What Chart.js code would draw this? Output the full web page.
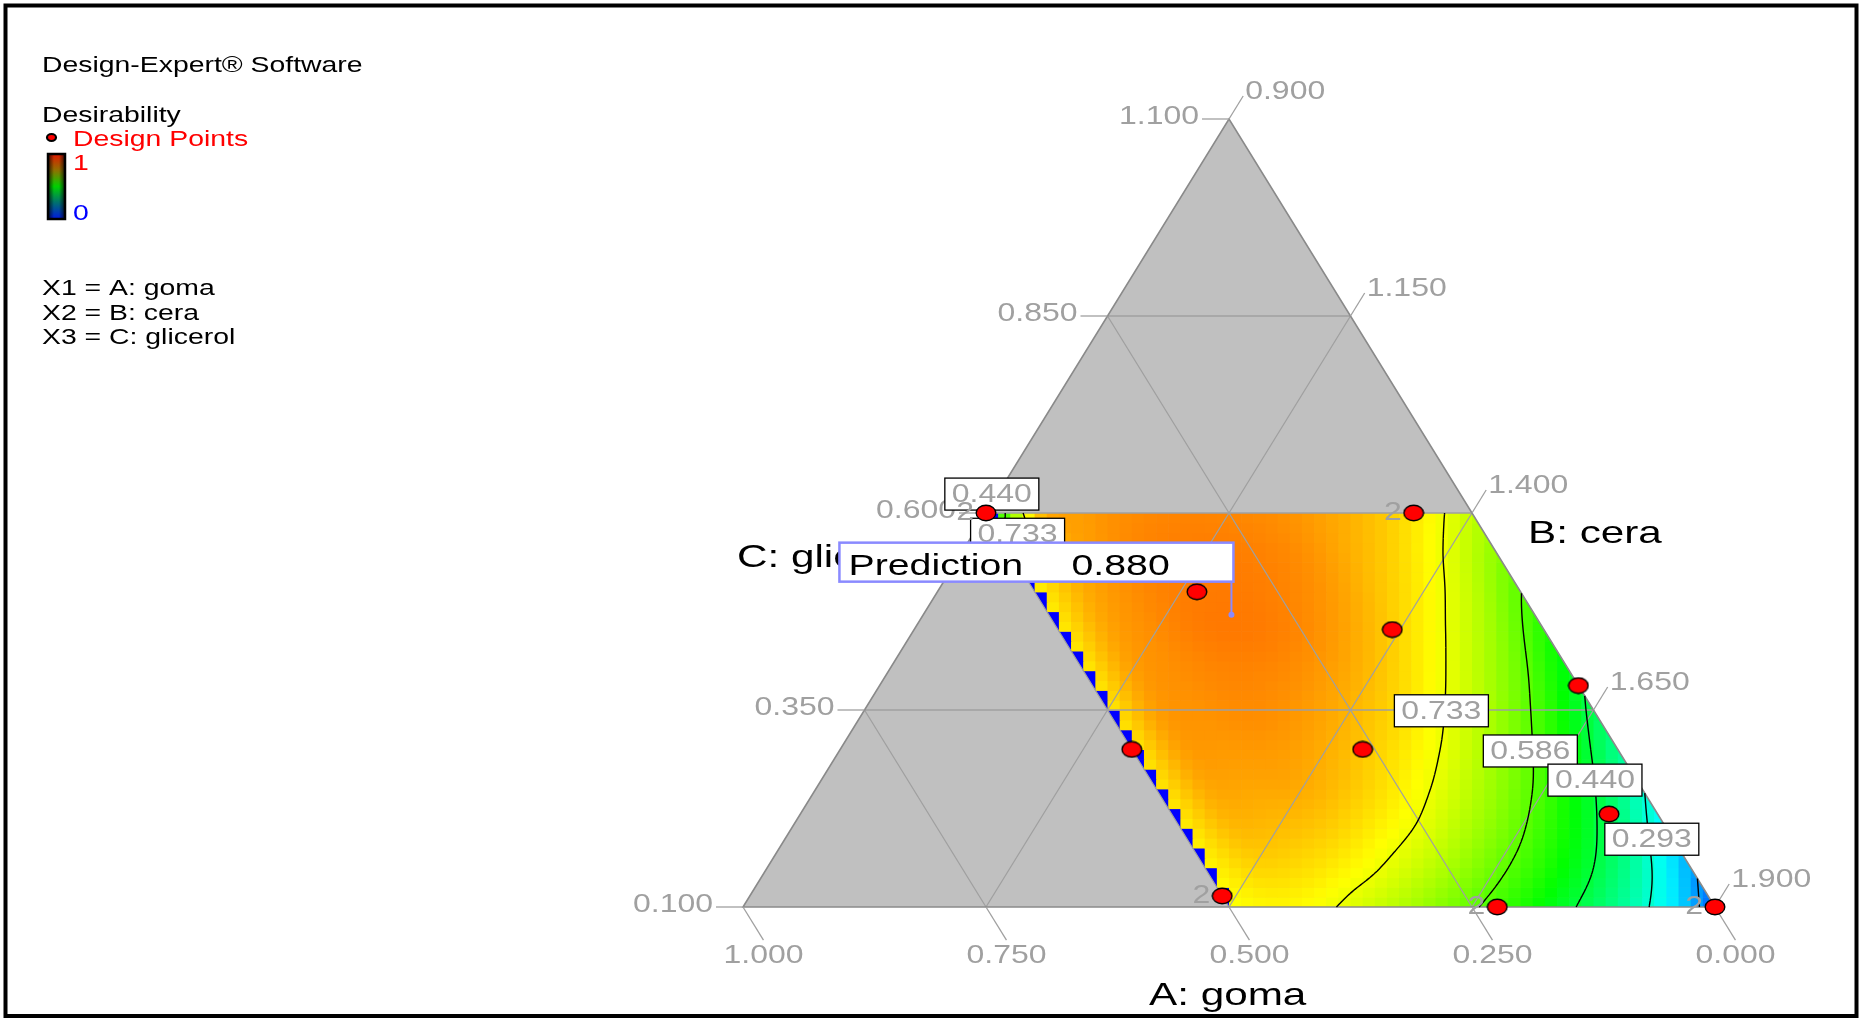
<!DOCTYPE html>
<html>
<head>
<meta charset="utf-8">
<title>Desirability - mixture plot</title>
<script src="https://cdn.jsdelivr.net/npm/chart.js@4.4.1/dist/chart.umd.min.js"></script>
<style>
  html, body { margin: 0; padding: 0; background: #ffffff; }
  #wrap { width: 1860px; height: 1018px; position: relative; }
</style>
</head>
<body>
<div id="wrap"><canvas id="chart"></canvas></div>
<script>
// Mixture in actual units: A goma 0-1, B cera 0.9-1.9, C glicerol 0.1-1.1, total 2.0
const A_MIN = 0.0, B_MIN = 0.9, C_MIN = 0.1, RANGE = 1.0;

// Constrained region: A <= 0.5, C <= 0.6
const A_MAX_REGION = 0.5, C_MAX_REGION = 0.6;

// Desirability readings on a grid: goma (columns) x glicerol (rows)
const gomaLevels     = [0.00, 0.05, 0.10, 0.15, 0.20, 0.25, 0.30, 0.35, 0.40, 0.45, 0.50];
const glicerolLevels = [0.10, 0.15, 0.20, 0.25, 0.30, 0.35, 0.40, 0.45, 0.50, 0.55, 0.60];
const desirC010 = [0.097, 0.249, 0.362, 0.452, 0.530, 0.595, 0.652, 0.699, 0.740, 0.757, 0.745];
const desirC015 = [0.166, 0.322, 0.440, 0.530, 0.603, 0.666, 0.716, 0.757, 0.783, 0.790, 0.755];
const desirC020 = [0.234, 0.385, 0.505, 0.594, 0.664, 0.723, 0.766, 0.800, 0.815, 0.815, 0.760];
const desirC025 = [0.300, 0.445, 0.562, 0.646, 0.713, 0.765, 0.805, 0.832, 0.836, 0.832, 0.765];
const desirC030 = [0.360, 0.500, 0.611, 0.691, 0.752, 0.796, 0.829, 0.848, 0.849, 0.842, 0.765];
const desirC035 = [0.419, 0.553, 0.655, 0.729, 0.785, 0.823, 0.850, 0.863, 0.857, 0.845, 0.765];
const desirC040 = [0.477, 0.603, 0.694, 0.762, 0.813, 0.847, 0.866, 0.870, 0.861, 0.842, 0.762];
const desirC045 = [0.533, 0.648, 0.730, 0.790, 0.836, 0.866, 0.880, 0.879, 0.862, 0.836, 0.760];
const desirC050 = [0.588, 0.690, 0.762, 0.812, 0.852, 0.873, 0.880, 0.876, 0.860, 0.828, 0.755];
const desirC055 = [0.641, 0.726, 0.788, 0.828, 0.860, 0.874, 0.878, 0.873, 0.855, 0.818, 0.748];
const desirC060 = [0.690, 0.763, 0.810, 0.840, 0.860, 0.868, 0.870, 0.863, 0.845, 0.800, 0.420];
const desirGrid = [desirC010, desirC015, desirC020, desirC025, desirC030, desirC035,
                   desirC040, desirC045, desirC050, desirC055, desirC060];

// Contour levels and where their labels sit (goma, glicerol)
const contourLevels  = [0.147, 0.293, 0.440, 0.586, 0.733];
const contourLabelLevel = [0.733, 0.586, 0.440, 0.293, 0.440, 0.733];
const contourLabelA     = [0.157, 0.091, 0.043, 0.022, 0.482, 0.481];
const contourLabelC     = [0.349, 0.298, 0.261, 0.186, 0.624, 0.573];

// Design points (goma, glicerol) and replicate counts
const designA    = [0.500, 0.060, 0.333, 0.156, 0.000, 0.500, 0.2625, 0.050, 0.500, 0.224, 0.000];
const designC    = [0.600, 0.600, 0.500, 0.452, 0.381, 0.300, 0.300, 0.218, 0.114, 0.100, 0.100];
const designReps = [2, 2, 1, 1, 1, 1, 1, 1, 2, 2, 2];

// Prediction flag
const predictionA = 0.312, predictionC = 0.471, predictionValue = 0.880;

// Axis tick labels
const aTickLabels = ['1.000', '0.750', '0.500', '0.250', '0.000'];
const bTickLabels = ['0.900', '1.150', '1.400', '1.650', '1.900'];
const cTickLabels = ['0.100', '0.350', '0.600', '0.850', '1.100'];

const legendLines = ['X1 = A: goma', 'X2 = B: cera', 'X3 = C: glicerol'];

// ---------- geometry helpers ----------
function toData(A, C) {
  const cp = (C - C_MIN) / RANGE;
  const ap = (A - A_MIN) / RANGE;
  const bp = 1 - ap - cp;
  return { x: bp + cp / 2, y: cp };
}
function px(chart, A, C) {
  const d = toData(A, C);
  return { x: chart.scales.x.getPixelForValue(d.x), y: chart.scales.y.getPixelForValue(d.y) };
}

// ---------- desirability surface (Catmull-Rom through the grid readings) ----------
const nA = gomaLevels.length, nC = glicerolLevels.length;
function g(j, i) {
  if (i < 0) return 2 * g(j, 0) - g(j, 1);
  if (i > nA - 1) return 2 * g(j, nA - 1) - g(j, nA - 2);
  if (j < 0) return 2 * g(0, i) - g(1, i);
  if (j > nC - 1) return 2 * g(nC - 1, i) - g(nC - 2, i);
  return desirGrid[j][i];
}
function cr(p0, p1, p2, p3, t) {
  return 0.5 * (2 * p1 + (-p0 + p2) * t + (2 * p0 - 5 * p1 + 4 * p2 - p3) * t * t +
                (-p0 + 3 * p1 - 3 * p2 + p3) * t * t * t);
}
function desirability(A, C) {
  const da = gomaLevels[1] - gomaLevels[0], dc = glicerolLevels[1] - glicerolLevels[0];
  const u = Math.min(Math.max((A - gomaLevels[0]) / da, 0), nA - 1);
  const v = Math.min(Math.max((C - glicerolLevels[0]) / dc, 0), nC - 1);
  const i = Math.min(Math.floor(u), nA - 2), j = Math.min(Math.floor(v), nC - 2);
  const t = u - i, s = v - j;
  const rows = [];
  for (let k = -1; k <= 2; k++) {
    rows.push(cr(g(j + k, i - 1), g(j + k, i), g(j + k, i + 1), g(j + k, i + 2), t));
  }
  return cr(rows[0], rows[1], rows[2], rows[3], s);
}
function colorFor(d) {
  const v = Math.min(Math.max(d, 0), 1);
  return 'hsl(' + (240 * (1 - v)).toFixed(1) + ',100%,50%)';
}

// ---------- text helper (wide-set lettering) ----------
const FONT = '"Liberation Sans", Arial, sans-serif';
function drawText(ctx, s, x, y, o) {
  ctx.save();
  ctx.font = o.size + 'px ' + FONT;
  ctx.fillStyle = o.color;
  ctx.textBaseline = o.baseline || 'alphabetic';
  ctx.textAlign = 'left';
  const sx = o.sx || 1;
  const w = ctx.measureText(s).width * sx;
  const left = o.align === 'center' ? x - w / 2 : (o.align === 'right' ? x - w : x);
  ctx.translate(left, y);
  ctx.scale(sx, 1);
  ctx.fillText(s, 0, 0);
  ctx.restore();
}

// ---------- contour tracing (marching squares on the surface) ----------
function contourSegments(level, N) {
  const F = [];
  for (let j = 0; j <= N; j++) {
    const row = [];
    for (let i = 0; i <= N; i++) {
      row.push(desirability(A_MAX_REGION * i / N, C_MIN + (C_MAX_REGION - C_MIN) * j / N));
    }
    F.push(row);
  }
  const Aat = i => A_MAX_REGION * i / N;
  const Cat = j => C_MIN + (C_MAX_REGION - C_MIN) * j / N;
  const segs = [];
  for (let j = 0; j < N; j++) {
    for (let i = 0; i < N; i++) {
      const c = [[i, j], [i + 1, j], [i + 1, j + 1], [i, j + 1]];
      const v = c.map(p => F[p[1]][p[0]]);
      const pts = [];
      for (let e = 0; e < 4; e++) {
        const a = e, b = (e + 1) % 4;
        const va = v[a], vb = v[b];
        if ((va < level) !== (vb < level)) {
          const t = (level - va) / (vb - va);
          const ii = c[a][0] + (c[b][0] - c[a][0]) * t;
          const jj = c[a][1] + (c[b][1] - c[a][1]) * t;
          pts.push({ A: Aat(ii), C: Cat(jj) });
        }
      }
      if (pts.length === 2) segs.push([pts[0], pts[1]]);
      else if (pts.length === 4) {
        const center = (v[0] + v[1] + v[2] + v[3]) / 4;
        if ((center < level) === (v[0] < level)) {
          segs.push([pts[0], pts[1]]); segs.push([pts[2], pts[3]]);
        } else {
          segs.push([pts[0], pts[3]]); segs.push([pts[1], pts[2]]);
        }
      }
    }
  }
  return segs;
}

// ---------- point marker ----------
function makeDot(w, h, lw) {
  const c = document.createElement('canvas');
  c.width = w; c.height = h;
  const x = c.getContext('2d');
  x.beginPath();
  x.ellipse(w / 2, h / 2, w / 2 - lw / 2 - 0.5, h / 2 - lw / 2 - 0.5, 0, 0, Math.PI * 2);
  x.fillStyle = '#ff0000';
  x.fill();
  x.lineWidth = lw;
  x.strokeStyle = '#000000';
  x.stroke();
  return c;
}
const dotImage = makeDot(22, 18, 1.4);

// ---------- drawing plugin ----------
const GRID = '#a0a0a0';
const ternaryPlugin = {
  id: 'ternaryMixture',
  beforeDraw(chart) {
    const ctx = chart.ctx;
    ctx.save();
    ctx.fillStyle = '#ffffff';
    ctx.fillRect(0, 0, chart.width, chart.height);
    // outer frame
    ctx.strokeStyle = '#000000';
    ctx.lineWidth = 4;
    ctx.strokeRect(5.5, 5.5, chart.width - 9, chart.height - 7.5);

    // legend block
    const L = { size: 22, sx: 1.29 };
    drawText(ctx, 'Design-Expert® Software', 42, 72, { ...L, color: '#000000' });
    drawText(ctx, 'Desirability', 42, 122, { ...L, color: '#000000' });
    ctx.beginPath();
    ctx.ellipse(51.5, 137.5, 4.5, 3.5, 0, 0, Math.PI * 2);
    ctx.fillStyle = '#ff0000'; ctx.fill();
    ctx.lineWidth = 2.2; ctx.strokeStyle = '#000000'; ctx.stroke();
    drawText(ctx, 'Design Points', 73, 146, { ...L, color: '#ff0000' });

    // colour bar
    const bx = 48, by = 154, bw = 17, bh = 65;
    const vg = ctx.createLinearGradient(0, by, 0, by + bh);
    vg.addColorStop(0, '#e01800');
    vg.addColorStop(0.25, '#907000');
    vg.addColorStop(0.5, '#00d000');
    vg.addColorStop(0.75, '#007070');
    vg.addColorStop(1, '#0018e0');
    ctx.fillStyle = vg;
    ctx.fillRect(bx, by, bw, bh);
    const hg = ctx.createLinearGradient(bx, 0, bx + bw, 0);
    hg.addColorStop(0, 'rgba(0,0,0,0.75)');
    hg.addColorStop(0.35, 'rgba(0,0,0,0)');
    hg.addColorStop(0.65, 'rgba(0,0,0,0)');
    hg.addColorStop(1, 'rgba(0,0,0,0.75)');
    ctx.fillStyle = hg;
    ctx.fillRect(bx, by, bw, bh);
    ctx.lineWidth = 2.5;
    ctx.strokeStyle = '#000000';
    ctx.strokeRect(bx, by, bw, bh);
    drawText(ctx, '1', 73, 170, { ...L, color: '#ff0000' });
    drawText(ctx, '0', 73, 220, { ...L, color: '#0000ff' });

    legendLines.forEach((s, k) => drawText(ctx, s, 42, 295 + k * 24.5, { ...L, color: '#000000' }));
    ctx.restore();
  },

  beforeDatasetsDraw(chart) {
    const ctx = chart.ctx;
    const xs = chart.scales.x, ys = chart.scales.y;
    const V1 = px(chart, 1, C_MIN);          // A vertex (bottom left)
    const V2 = px(chart, 0, C_MIN);          // B vertex (bottom right)
    const V3 = px(chart, 0, C_MIN + RANGE);  // C vertex (top)
    ctx.save();

    // full simplex in grey
    ctx.beginPath();
    ctx.moveTo(V1.x, V1.y); ctx.lineTo(V2.x, V2.y); ctx.lineTo(V3.x, V3.y); ctx.closePath();
    ctx.fillStyle = '#c0c0c0';
    ctx.fill();

    // desirability cells clipped to the constrained region
    const R = [px(chart, A_MAX_REGION, C_MIN), px(chart, 0, C_MIN),
               px(chart, 0, C_MAX_REGION), px(chart, A_MAX_REGION, C_MAX_REGION)];
    ctx.save();
    ctx.beginPath();
    ctx.moveTo(R[0].x, R[0].y);
    for (let k = 1; k < 4; k++) ctx.lineTo(R[k].x, R[k].y);
    ctx.closePath();
    ctx.clip();
    const n = 80, h = 1 / n;
    const rowsY = Math.round((C_MAX_REGION - C_MIN) / RANGE * n);
    for (let jy = 0; jy < rowsY; jy++) {
      for (let ix = 0; ix < n; ix++) {
        const x0 = ix * h, y0 = jy * h;
        const topLeftA = A_MIN + RANGE * (1 - x0 - (y0 + h) / 2);
        const xcD = x0 + h / 2, ycD = y0 + h / 2;
        const cCell = C_MIN + RANGE * ycD;
        const aCell = A_MIN + RANGE * (1 - xcD - ycD / 2);
        let d;
        if (topLeftA > A_MAX_REGION - 1e-6) d = 0;
        else d = desirability(Math.max(aCell, 0), cCell);
        const l = xs.getPixelForValue(x0), r = xs.getPixelForValue(x0 + h);
        const t = ys.getPixelForValue(y0 + h), b = ys.getPixelForValue(y0);
        ctx.fillStyle = colorFor(d);
        ctx.fillRect(l, t, r - l + 0.6, b - t + 0.6);
      }
    }
    ctx.restore();

    // grid lines
    ctx.strokeStyle = GRID;
    ctx.lineWidth = 1.3;
    ctx.beginPath();
    cTickLabels.slice(1, -1).forEach(s => {
      const c = parseFloat(s), cp = (c - C_MIN) / RANGE;
      const p = px(chart, A_MIN + RANGE * (1 - cp), c), q = px(chart, A_MIN, c);
      ctx.moveTo(p.x, p.y); ctx.lineTo(q.x, q.y);
    });
    aTickLabels.slice(1, -1).forEach(s => {
      const a = parseFloat(s), ap = (a - A_MIN) / RANGE;
      const p = px(chart, a, C_MIN), q = px(chart, a, C_MIN + RANGE * (1 - ap));
      ctx.moveTo(p.x, p.y); ctx.lineTo(q.x, q.y);
    });
    bTickLabels.slice(1, -1).forEach(s => {
      const bp = (parseFloat(s) - B_MIN) / RANGE;
      const p = px(chart, A_MIN + RANGE * (1 - bp), C_MIN), q = px(chart, A_MIN, C_MIN + RANGE * (1 - bp));
      ctx.moveTo(p.x, p.y); ctx.lineTo(q.x, q.y);
    });
    ctx.stroke();

    // simplex edges
    ctx.beginPath();
    ctx.moveTo(V1.x, V1.y); ctx.lineTo(V2.x, V2.y); ctx.lineTo(V3.x, V3.y); ctx.closePath();
    ctx.strokeStyle = '#8a8a8a';
    ctx.lineWidth = 1.6;
    ctx.stroke();

    // contour lines
    ctx.strokeStyle = '#000000';
    ctx.lineWidth = 1.4;
    contourLevels.forEach(level => {
      const segs = contourSegments(level, 120);
      ctx.beginPath();
      segs.forEach(sg => {
        const p = px(chart, sg[0].A, sg[0].C), q = px(chart, sg[1].A, sg[1].C);
        ctx.moveTo(p.x, p.y); ctx.lineTo(q.x, q.y);
      });
      ctx.stroke();
    });

    // axis ticks and tick labels
    const norm = (p, q) => { const dx = q.x - p.x, dy = q.y - p.y, m = Math.hypot(dx, dy); return { x: dx / m, y: dy / m }; };
    const upLeftEdge = norm(V1, V3);
    const downRightEdge = norm(V3, V2);
    const TL = { size: 26, sx: 1.23, color: GRID, baseline: 'middle' };
    ctx.strokeStyle = GRID;
    ctx.lineWidth = 1.3;
    cTickLabels.forEach(s => {
      const c = parseFloat(s), cp = (c - C_MIN) / RANGE;
      const p = px(chart, A_MIN + RANGE * (1 - cp), c);
      const e = { x: p.x - 27, y: p.y };
      ctx.beginPath(); ctx.moveTo(p.x, p.y); ctx.lineTo(e.x, e.y); ctx.stroke();
      drawText(ctx, s, e.x - 3, e.y - 2, { ...TL, align: 'right' });
    });
    bTickLabels.forEach(s => {
      const bp = (parseFloat(s) - B_MIN) / RANGE;
      const p = px(chart, A_MIN, C_MIN + RANGE * (1 - bp));
      const e = { x: p.x + upLeftEdge.x * 27, y: p.y + upLeftEdge.y * 27 };
      ctx.beginPath(); ctx.moveTo(p.x, p.y); ctx.lineTo(e.x, e.y); ctx.stroke();
      drawText(ctx, s, e.x + 2, e.y - 4, { ...TL, align: 'left' });
    });
    aTickLabels.forEach(s => {
      const a = parseFloat(s);
      const p = px(chart, a, C_MIN);
      const e = { x: p.x + downRightEdge.x * 39, y: p.y + downRightEdge.y * 39 };
      ctx.beginPath(); ctx.moveTo(p.x, p.y); ctx.lineTo(e.x, e.y); ctx.stroke();
      drawText(ctx, s, e.x, e.y + 16, { ...TL, align: 'center' });
    });

    // contour labels
    contourLabelLevel.forEach((lv, k) => {
      const c = px(chart, contourLabelA[k], contourLabelC[k]);
      const w = 94, hgt = 32;
      ctx.fillStyle = '#ffffff';
      ctx.fillRect(c.x - w / 2, c.y - hgt / 2, w, hgt);
      ctx.strokeStyle = '#000000';
      ctx.lineWidth = 1.3;
      ctx.strokeRect(c.x - w / 2, c.y - hgt / 2, w, hgt);
      drawText(ctx, lv.toFixed(3), c.x, c.y + 1, { ...TL, align: 'center' });
    });
    ctx.restore();
  },

  afterDatasetsDraw(chart) {
    const ctx = chart.ctx;
    ctx.save();
    // replicate counts
    designA.forEach((a, k) => {
      if (designReps[k] > 1) {
        const p = px(chart, a, designC[k]);
        drawText(ctx, String(designReps[k]), p.x - 12, p.y, { size: 26, sx: 1.23, color: GRID, baseline: 'middle', align: 'right' });
      }
    });
    // component titles
    const T = { size: 32, sx: 1.32, color: '#000000' };
    const base = px(chart, 0.5, C_MIN);
    drawText(ctx, 'A: goma', base.x - 80, 1005, T);
    const bLab = px(chart, 0, 0.6);
    drawText(ctx, 'B: cera', bLab.x + 56, 543, T);
    const cLab = px(chart, 1 - 0.5, 0.6);
    drawText(ctx, 'C: glicerol', cLab.x - 249, 567, T);

    // prediction flag
    const p = px(chart, predictionA, predictionC);
    const bw = 394, bh = 39;
    const right = p.x + 2, bottom = p.y - 33;
    const left = right - bw, top = bottom - bh;
    ctx.fillStyle = '#ffffff';
    ctx.fillRect(left, top, bw, bh);
    ctx.strokeStyle = '#8a8aff';
    ctx.lineWidth = 2.5;
    ctx.strokeRect(left, top, bw, bh);
    ctx.beginPath();
    ctx.moveTo(p.x, bottom); ctx.lineTo(p.x, p.y);
    ctx.lineWidth = 2;
    ctx.stroke();
    ctx.beginPath();
    ctx.arc(p.x, p.y, 3, 0, Math.PI * 2);
    ctx.fillStyle = '#8a8aff';
    ctx.fill();
    const PT = { size: 30, sx: 1.31, color: '#000000' };
    drawText(ctx, 'Prediction', left + 9, bottom - 7, PT);
    drawText(ctx, predictionValue.toFixed(3), left + 232, bottom - 7, PT);
    ctx.restore();
  }
};

// ---------- chart ----------
const designData = designA.map((a, k) => toData(a, designC[k]));

new Chart(document.getElementById('chart'), {
  type: 'scatter',
  data: {
    datasets: [{
      label: 'Design Points',
      data: designData,
      pointStyle: dotImage,
      pointRadius: 10,
      pointHoverRadius: 10,
      clip: false
    }]
  },
  options: {
    responsive: true,
    maintainAspectRatio: false,
    animation: false,
    events: [],
    layout: { padding: { left: 743, right: 145, top: 119, bottom: 111 } },
    scales: {
      x: { type: 'linear', min: 0, max: 1, display: false },
      y: { type: 'linear', min: 0, max: 1, display: false }
    },
    plugins: {
      legend: { display: false },
      tooltip: { enabled: false },
      title: { display: false }
    }
  },
  plugins: [ternaryPlugin]
});
</script>
</body>
</html>
